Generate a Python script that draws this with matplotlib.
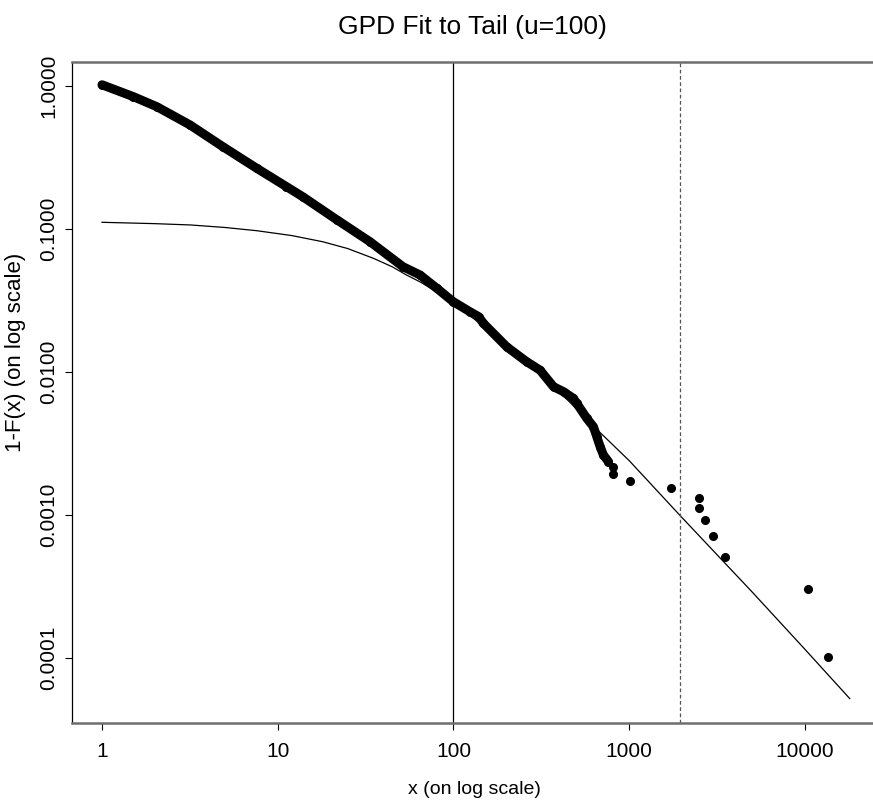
import numpy as np
import matplotlib
matplotlib.use("Agg")
import matplotlib.pyplot as plt

# empirical tail, dense part (read along the band of overlapping points)
dense_x = [1.0, 1.51, 2.05, 3.17, 4.88, 7.59, 11.2, 13.9, 21.7, 33.5, 51.6,
           64.5, 80.4, 99.8, 124, 139, 148, 201, 261, 311, 371, 423, 481,
           503, 574, 626, 654, 683, 713, 762]
dense_y = [1.02, 0.842, 0.717, 0.534, 0.376, 0.266, 0.198, 0.168, 0.116,
           0.0815, 0.0545, 0.0477, 0.0385, 0.0310, 0.0264, 0.0244, 0.0219,
           0.0150, 0.0118, 0.0103, 0.00789, 0.00728, 0.00654, 0.00604,
           0.00474, 0.00414, 0.00353, 0.00301, 0.00263, 0.00236]

# largest observations, drawn as single points
tail_x = [813, 813, 1012, 1725, 2500, 2510, 2705, 2992, 3500, 10470, 13490]
tail_y = [0.00218, 0.00194, 0.00174, 0.00155, 0.00132, 0.00112, 0.000922,
          0.000716, 0.000511, 0.000305, 0.000102]

# fitted GPD tail curve
fit_x = [1, 2, 3.2, 5, 7.6, 12, 18, 25, 35, 45, 54, 65, 77, 100, 130, 170,
         220, 300, 450, 650, 1000, 1950, 5000, 10000, 17990]
fit_y = [0.1114, 0.109, 0.1067, 0.1025, 0.0973, 0.090, 0.0815, 0.073,
         0.0624, 0.0543, 0.0477, 0.0425, 0.0374, 0.0310, 0.0237, 0.0182,
         0.0140, 0.0100, 0.0063, 0.0040, 0.0024, 0.00099, 0.000290,
         0.000115, 0.000052]

threshold = 100
quant_x = 1950

x_ticks = [1, 10, 100, 1000, 10000]
x_labels = ["1", "10", "100", "1000", "10000"]
y_ticks = [1.0, 0.1, 0.01, 0.001, 0.0001]
y_labels = ["1.0000", "0.1000", "0.0100", "0.0010", "0.0001"]

font = ["Liberation Sans", "DejaVu Sans"]

fig = plt.figure(figsize=(8.73, 8.01), dpi=100)
ax = fig.add_axes([72 / 873, 1 - 723 / 801, 1 - 72 / 873, (723 - 62) / 801])

ax.set_xscale("log")
ax.set_yscale("log")

ax.plot(dense_x, dense_y, color="k", lw=6.5, solid_capstyle="round",
        solid_joinstyle="round")
ax.plot(dense_x, dense_y, "o", color="k", ms=5.5)
ax.plot(tail_x, tail_y, "o", color="k", ms=5.5)
ax.plot(fit_x, fit_y, color="k", lw=0.9)

ax.axvline(threshold, color="k", lw=0.9)
ax.axvline(quant_x, color="#555555", lw=0.9, ls=(0, (3, 2)))

ax.set_xlim(0.675, 24400)
ax.set_ylim(3.51e-5, 1.472)

ax.xaxis.set_minor_locator(matplotlib.ticker.NullLocator())
ax.yaxis.set_minor_locator(matplotlib.ticker.NullLocator())
ax.set_xticks(x_ticks)
ax.set_xticklabels(x_labels, family=font, fontsize=15)
ax.set_yticks(y_ticks)
ax.set_yticklabels(y_labels, family=font, fontsize=15, rotation=90,
                   va="center")
ax.tick_params(axis="x", length=5, width=0.8, pad=9)
ax.tick_params(axis="y", length=5, width=0.8, pad=5)

ax.spines["right"].set_visible(False)
ax.spines["left"].set_color("k")
ax.spines["left"].set_linewidth(0.9)
for s in ["top", "bottom"]:
    ax.spines[s].set_color("#6e6e6e")
    ax.spines[s].set_linewidth(1.8)

ax.set_title("GPD Fit to Tail (u=100)", family=font, fontsize=19, pad=20)
ax.set_xlabel("x (on log scale)", family=font, fontsize=14)
ax.xaxis.set_label_coords(0.503, -0.0877)
ax.set_ylabel("1-F(x) (on log scale)", family=font, fontsize=16)
ax.yaxis.set_label_coords(-0.058, 0.56)

fig.savefig("out.png", dpi=100)
